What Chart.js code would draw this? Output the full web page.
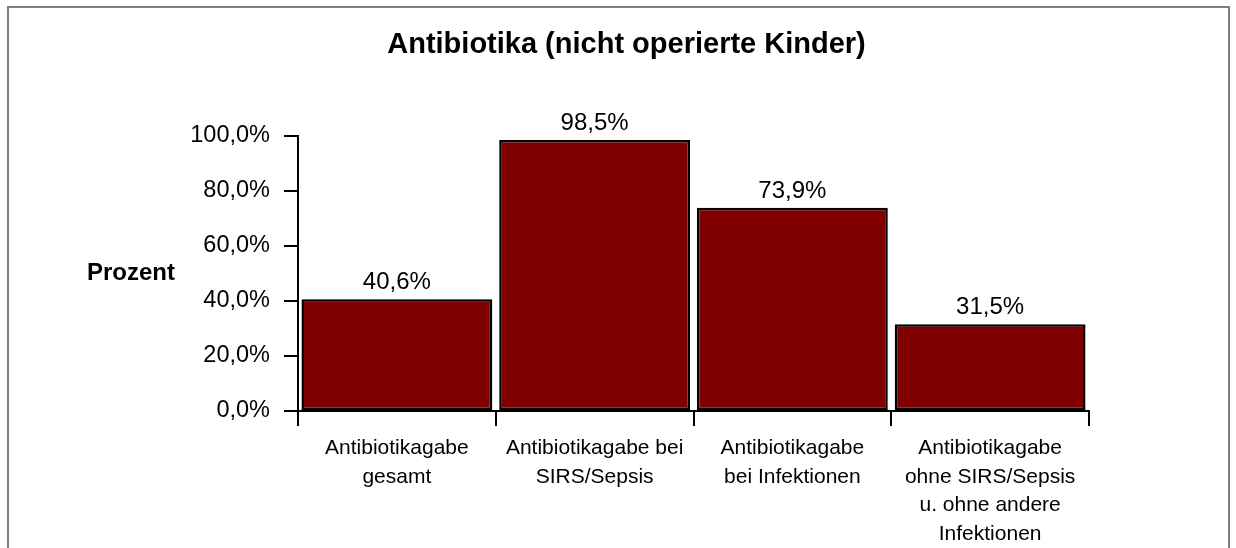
<!DOCTYPE html>
<html lang="de">
<head>
<meta charset="utf-8">
<title>Antibiotika (nicht operierte Kinder)</title>
<script src="https://cdn.jsdelivr.net/npm/chart.js@4.4.1/dist/chart.umd.min.js"></script>
<style>
  html, body { margin: 0; padding: 0; background: #fff; overflow: hidden; }
  #frame {
    position: absolute; left: 7px; top: 6px;
    width: 1223px; height: 700px;
    box-sizing: border-box;
    border: 2px solid #808080;
  }
  #wrap { position: relative; width: 1219px; height: 540px; }
</style>
</head>
<body>
<div id="frame">
  <div id="wrap"><canvas id="chart"></canvas></div>
</div>
<script>
// Daten
const categories = [
  ["Antibiotikagabe", "gesamt"],
  ["Antibiotikagabe bei", "SIRS/Sepsis"],
  ["Antibiotikagabe", "bei Infektionen"],
  ["Antibiotikagabe", "ohne SIRS/Sepsis", "u. ohne andere", "Infektionen"]
];
const values = [40.6, 98.5, 73.9, 31.5];
const yTicks = [0, 20, 40, 60, 80, 100];

const FONT = "'Liberation Sans', Arial, sans-serif";
const fmt = v => v.toFixed(1).replace(".", ",") + "%";

// Werte über den Balken
const valueLabels = {
  id: "valueLabels",
  afterDatasetsDraw(chart) {
    const ctx = chart.ctx;
    const meta = chart.getDatasetMeta(0);
    ctx.save();
    ctx.font = "24px " + FONT;
    ctx.fillStyle = "#000";
    ctx.textAlign = "center";
    ctx.textBaseline = "alphabetic";
    meta.data.forEach((bar, i) => {
      ctx.fillText(fmt(values[i]), bar.x, bar.y - 10);
    });
    ctx.restore();
  }
};

// horizontale Achsenbeschriftung links
const yTitle = {
  id: "yTitle",
  afterDraw(chart) {
    const ctx = chart.ctx;
    const a = chart.chartArea;
    ctx.save();
    ctx.font = "bold 24px " + FONT;
    ctx.fillStyle = "#000";
    ctx.textAlign = "center";
    ctx.textBaseline = "middle";
    ctx.fillText("Prozent", 122, (a.top + a.bottom) / 2);
    ctx.restore();
  }
};

new Chart(document.getElementById("chart").getContext("2d"), {
  type: "bar",
  data: {
    labels: categories,
    datasets: [{
      data: values,
      backgroundColor: "#800000",
      borderColor: "#000",
      borderWidth: 2.5,
      borderSkipped: false,
      barPercentage: 0.965,
      categoryPercentage: 1.0
    }]
  },
  options: {
    responsive: true, maintainAspectRatio: false,
    animation: false,
    layout: { padding: { left: 155, right: 139, top: 0, bottom: 0 } },
    plugins: {
      legend: { display: false },
      tooltip: { enabled: false },
      title: {
        display: true,
        text: "Antibiotika (nicht operierte Kinder)",
        color: "#000",
        font: { family: FONT, size: 29, weight: "bold", lineHeight: 1.2 },
        padding: { top: 20, bottom: 73 }
      }
    },
    scales: {
      x: {
        offset: true,
        grid: { offset: true, drawOnChartArea: false, drawTicks: true, tickLength: 15, color: "#000", lineWidth: 2 },
        border: { display: true, color: "#000", width: 2 },
        ticks: {
          color: "#000", padding: 8, maxRotation: 0, autoSkip: false,
          font: { family: FONT, size: 21, lineHeight: 1.36 }
        },
        afterFit: s => { s.height = 137; }
      },
      y: {
        min: 0, max: 100,
        afterBuildTicks: s => { s.ticks = yTicks.map(v => ({ value: v })); },
        grid: { drawOnChartArea: false, drawTicks: true, tickLength: 14, color: "#000", lineWidth: 2 },
        border: { display: true, color: "#000", width: 2 },
        ticks: {
          color: "#000", padding: 14,
          font: { family: FONT, size: 23.5 },
          callback: v => fmt(v)
        },
        afterFit: s => { s.width = 134; }
      }
    }
  },
  plugins: [valueLabels, yTitle]
});
</script>
</body>
</html>
